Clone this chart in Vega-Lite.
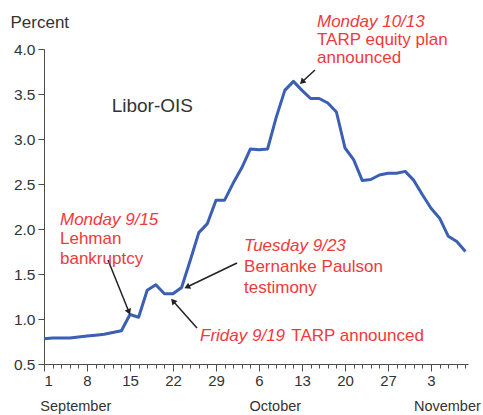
{
  "$schema": "https://vega.github.io/schema/vega-lite/v6.json",
  "width": 424,
  "height": 315,
  "autosize": "none",
  "padding": {"left": 44, "top": 49, "right": 15, "bottom": 51},
  "background": "white",
  "config": {
    "view": {"stroke": null},
    "font": "Liberation Sans",
    "axis": {"grid": false, "domainColor": "#4d4d4d", "tickColor": "#4d4d4d", "labelColor": "#333333"}
  },
  "datasets": {
    "libor": [
      {"date": "2008-09-01", "i": 0, "v": 0.78},
      {"date": "2008-09-02", "i": 1, "v": 0.79},
      {"date": "2008-09-03", "i": 2, "v": 0.79},
      {"date": "2008-09-04", "i": 3, "v": 0.79},
      {"date": "2008-09-05", "i": 4, "v": 0.80},
      {"date": "2008-09-08", "i": 5, "v": 0.81},
      {"date": "2008-09-09", "i": 6, "v": 0.82},
      {"date": "2008-09-10", "i": 7, "v": 0.83},
      {"date": "2008-09-11", "i": 8, "v": 0.85},
      {"date": "2008-09-12", "i": 9, "v": 0.87},
      {"date": "2008-09-15", "i": 10, "v": 1.05},
      {"date": "2008-09-16", "i": 11, "v": 1.02},
      {"date": "2008-09-17", "i": 12, "v": 1.32},
      {"date": "2008-09-18", "i": 13, "v": 1.38},
      {"date": "2008-09-19", "i": 14, "v": 1.28},
      {"date": "2008-09-22", "i": 15, "v": 1.28},
      {"date": "2008-09-23", "i": 16, "v": 1.35},
      {"date": "2008-09-24", "i": 17, "v": 1.65},
      {"date": "2008-09-25", "i": 18, "v": 1.96},
      {"date": "2008-09-26", "i": 19, "v": 2.06},
      {"date": "2008-09-29", "i": 20, "v": 2.32},
      {"date": "2008-09-30", "i": 21, "v": 2.32},
      {"date": "2008-10-01", "i": 22, "v": 2.51},
      {"date": "2008-10-02", "i": 23, "v": 2.68},
      {"date": "2008-10-03", "i": 24, "v": 2.89},
      {"date": "2008-10-06", "i": 25, "v": 2.88},
      {"date": "2008-10-07", "i": 26, "v": 2.89},
      {"date": "2008-10-08", "i": 27, "v": 3.24},
      {"date": "2008-10-09", "i": 28, "v": 3.54},
      {"date": "2008-10-10", "i": 29, "v": 3.64},
      {"date": "2008-10-13", "i": 30, "v": 3.54},
      {"date": "2008-10-14", "i": 31, "v": 3.45},
      {"date": "2008-10-15", "i": 32, "v": 3.45},
      {"date": "2008-10-16", "i": 33, "v": 3.40},
      {"date": "2008-10-17", "i": 34, "v": 3.30},
      {"date": "2008-10-20", "i": 35, "v": 2.90},
      {"date": "2008-10-21", "i": 36, "v": 2.77},
      {"date": "2008-10-22", "i": 37, "v": 2.54},
      {"date": "2008-10-23", "i": 38, "v": 2.55},
      {"date": "2008-10-24", "i": 39, "v": 2.60},
      {"date": "2008-10-27", "i": 40, "v": 2.62},
      {"date": "2008-10-28", "i": 41, "v": 2.62},
      {"date": "2008-10-29", "i": 42, "v": 2.64},
      {"date": "2008-10-30", "i": 43, "v": 2.54},
      {"date": "2008-10-31", "i": 44, "v": 2.38},
      {"date": "2008-11-03", "i": 45, "v": 2.23},
      {"date": "2008-11-04", "i": 46, "v": 2.12},
      {"date": "2008-11-05", "i": 47, "v": 1.92},
      {"date": "2008-11-06", "i": 48, "v": 1.86},
      {"date": "2008-11-07", "i": 49, "v": 1.75}
    ],
    "months": [
      {"month": "September", "i": 3.7, "v": 0.5},
      {"month": "October", "i": 26.9, "v": 0.5},
      {"month": "November", "i": 46.9, "v": 0.5}
    ],
    "heads": [
      {"t": "Monday 10/13", "i": 31.74, "v": 4.25},
      {"t": "Monday 9/15", "i": 1.86, "v": 2.044},
      {"t": "Tuesday 9/23", "i": 23.26, "v": 1.756},
      {"t": "Friday 9/19", "i": 18.14, "v": 0.761}
    ],
    "lines": [
      {"t": "TARP equity plan", "i": 31.74, "v": 4.045},
      {"t": "announced", "i": 31.74, "v": 3.845},
      {"t": "Lehman", "i": 1.86, "v": 1.828},
      {"t": "bankruptcy", "i": 1.86, "v": 1.611},
      {"t": "Bernanke Paulson", "i": 23.26, "v": 1.522},
      {"t": "testimony", "i": 23.26, "v": 1.289},
      {"t": "TARP announced", "i": 28.75, "v": 0.761}
    ],
    "arrows": [
      {"i": 7.44, "v": 1.656, "i2": 9.88, "v2": 1.078},
      {"i": 22.44, "v": 1.622, "i2": 16.63, "v2": 1.356},
      {"i": 17.79, "v": 0.9, "i2": 15.0, "v2": 1.2},
      {"i": 31.51, "v": 3.767, "i2": 30.0, "v2": 3.633}
    ],
    "tips": [
      {"i": 9.88, "v": 1.078, "ang": 158},
      {"i": 16.63, "v": 1.356, "ang": 244},
      {"i": 15.0, "v": 1.2, "ang": 318},
      {"i": 30.0, "v": 3.633, "ang": 227}
    ],
    "series_label": [
      {"t": "Libor-OIS", "i": 7.87, "v": 3.303}
    ]
  },
  "encoding": {
    "x": {"field": "i", "type": "quantitative", "scale": {"domain": [0, 49.3], "nice": false, "zero": false},
      "axis": {"values": [0,1,2,3,4,5,6,7,8,9,10,11,12,13,14,15,16,17,18,19,20,21,22,23,24,25,26,27,28,29,30,31,32,33,34,35,36,37,38,39,40,41,42,43,44,45,46,47,48,49],
        "labelExpr": "datum.value % 5 === 0 ? ['1','8','15','22','29','6','13','20','27','3'][round(datum.value/5)] : ''",
        "tickSize": {"condition": {"test": "datum.value % 5 === 0", "value": 7}, "value": 4},
        "labelFontSize": 15, "labelPadding": 2, "labelOverlap": false, "labelBound": false, "title": null}},
    "y": {"field": "v", "type": "quantitative", "scale": {"domain": [0.5, 4.0], "nice": false, "zero": false},
      "axis": {"values": [0.5, 1.0, 1.5, 2.0, 2.5, 3.0, 3.5, 4.0], "format": ".1f", "tickSize": 6, "labelFontSize": 15.5, "labelPadding": 3,
        "title": "Percent", "titleAngle": 0, "titleAlign": "left", "titleBaseline": "alphabetic", "titleX": -34, "titleY": -22, "titleFontSize": 17, "titleFontWeight": "normal", "titleColor": "#333333"}}
  },
  "layer": [
    {
      "data": {"name": "libor"},
      "mark": {"type": "line", "color": "#3a5fb3", "strokeWidth": 3, "strokeJoin": "round"}
    },
    {
      "data": {"name": "months"},
      "mark": {"type": "text", "align": "center", "baseline": "alphabetic", "dy": 47, "fontSize": 14.5, "color": "#333333"},
      "encoding": {"text": {"field": "month"}}
    },
    {
      "data": {"name": "arrows"},
      "mark": {"type": "rule", "color": "#222222", "strokeWidth": 1.5},
      "encoding": {
        "x2": {"field": "i2"},
        "y2": {"field": "v2"}
      }
    },
    {
      "data": {"name": "tips"},
      "mark": {"type": "point", "shape": "triangle-up", "filled": true, "color": "#222222", "size": 45, "opacity": 1},
      "encoding": {
        "angle": {"field": "ang", "type": "quantitative", "scale": null}
      }
    },
    {
      "data": {"name": "heads"},
      "mark": {"type": "text", "align": "left", "baseline": "alphabetic", "fontSize": 17, "fontStyle": "italic", "color": "#f03a3a"},
      "encoding": {"text": {"field": "t"}}
    },
    {
      "data": {"name": "lines"},
      "mark": {"type": "text", "align": "left", "baseline": "alphabetic", "fontSize": 17, "color": "#f03a3a"},
      "encoding": {"text": {"field": "t"}}
    },
    {
      "data": {"name": "series_label"},
      "mark": {"type": "text", "align": "left", "baseline": "alphabetic", "fontSize": 19, "color": "#333333"},
      "encoding": {"text": {"field": "t"}}
    }
  ]
}
